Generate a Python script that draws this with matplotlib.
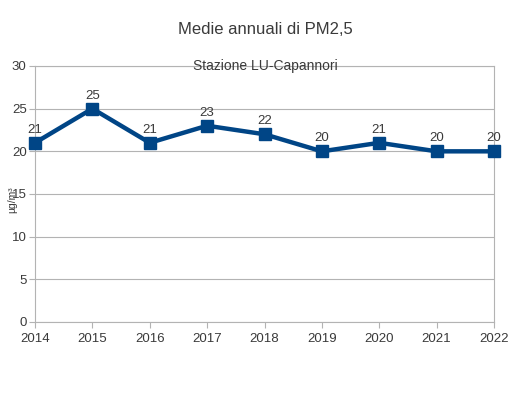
import matplotlib
matplotlib.use("Agg")
import matplotlib.pyplot as plt

years = [2014, 2015, 2016, 2017, 2018, 2019, 2020, 2021, 2022]
pm25 = [21, 25, 21, 23, 22, 20, 21, 20, 20]

plt.rcParams['font.family'] = ['Liberation Sans', 'DejaVu Sans']
txt = '#3a3a3a'
grid = '#b3b3b3'

fig = plt.figure(figsize=(5.27, 3.96), dpi=100)
ax = fig.add_axes([35 / 527, 1 - 322 / 396, 459 / 527, 256 / 396])

ax.plot(years, pm25, color='#004586', lw=3.2, marker='s', ms=8, clip_on=False, zorder=3)
for x, y in zip(years, pm25):
    ax.annotate(str(y), (x, y), xytext=(0, 5), textcoords='offset points',
                ha='center', va='bottom', fontsize=9.5, color=txt)

ax.set_xlim(2014, 2022)
ax.set_ylim(0, 30)
ax.set_xticks(years)
ax.set_yticks(range(0, 31, 5))
ax.grid(axis='y', color=grid, lw=0.8)
ax.set_axisbelow(True)
for s in ax.spines.values():
    s.set_color(grid)
    s.set_linewidth(0.8)
ax.tick_params(colors=grid, labelcolor=txt, labelsize=9.5, length=4, width=0.8, pad=2)
ax.tick_params(axis='x', pad=4)

fig.text(12 / 527, 1 - 200 / 396, 'µg/m³', rotation=90, ha='center', va='center', fontsize=7.5, color=txt)
fig.text(265 / 527, 1 - 30 / 396, 'Medie annuali di PM2,5', ha='center', va='center', fontsize=12, color=txt)
fig.text(265 / 527, 1 - 66 / 396, 'Stazione LU-Capannori', ha='center', va='center', fontsize=10, color=txt)

fig.savefig('out.png', dpi=100)
